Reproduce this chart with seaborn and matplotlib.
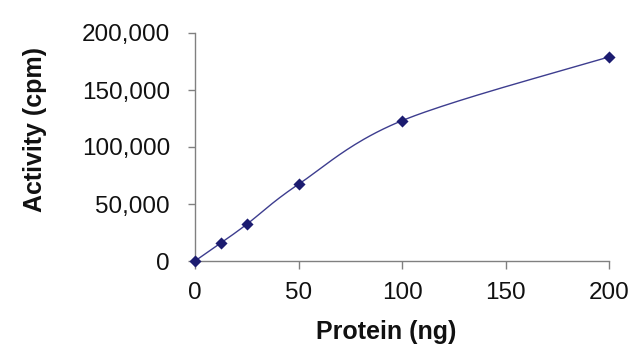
import numpy as np
import pandas as pd
import matplotlib
matplotlib.use("Agg")
import matplotlib.pyplot as plt
import seaborn as sns
from matplotlib.ticker import FuncFormatter

# data
protein_ng = [0, 12.5, 25, 50, 100, 200]
activity_cpm = [0, 15800, 32200, 67300, 123100, 179000]
x_ticks = [0, 50, 100, 150, 200]
y_ticks = [0, 50000, 100000, 150000, 200000]

line_color = "#3d3d8f"
marker_color = "#1c1c70"
axis_color = "#808080"


def excel_smooth(xs, ys, steps=40):
    """Bezier smoothing like a spreadsheet 'smoothed line'."""
    p = np.column_stack([xs, ys]).astype(float)
    n = len(p)
    out = []
    t = np.linspace(0, 1, steps)[:, None]
    for i in range(n - 1):
        p_prev = p[i - 1] if i > 0 else p[i]
        p_next = p[i + 2] if i + 2 < n else p[i + 1]
        c1 = p[i] + (p[i + 1] - p_prev) / 6
        c2 = p[i + 1] - (p_next - p[i]) / 6
        seg = ((1 - t) ** 3) * p[i] + 3 * ((1 - t) ** 2) * t * c1 \
            + 3 * (1 - t) * t ** 2 * c2 + t ** 3 * p[i + 1]
        out.append(seg if i == 0 else seg[1:])
    out = np.vstack(out)
    return pd.DataFrame({"x": out[:, 0], "y": out[:, 1]})


sns.set_style("white")
plt.rcParams["font.family"] = ["Liberation Sans", "DejaVu Sans"]

df = pd.DataFrame({"protein": protein_ng, "activity": activity_cpm})
curve = excel_smooth(protein_ng, activity_cpm)

fig = plt.figure(figsize=(6.4, 3.61), dpi=100)
ax = fig.add_axes([195 / 640, 1 - 261 / 361, 414 / 640, 228 / 361])

sns.lineplot(data=curve, x="x", y="y", ax=ax, color=line_color, lw=1.0,
             sort=False, estimator=None, clip_on=False)
sns.scatterplot(data=df, x="protein", y="activity", ax=ax, marker="D",
                s=38, color=marker_color, edgecolor=marker_color,
                linewidth=0, clip_on=False, zorder=3)

ax.set_xlim(0, 200)
ax.set_ylim(0, 200000)
ax.set_xticks(x_ticks)
ax.set_yticks(y_ticks)
ax.yaxis.set_major_formatter(FuncFormatter(lambda v, _: f"{int(v):,}"))

for side in ["top", "right"]:
    ax.spines[side].set_visible(False)
for side in ["left", "bottom"]:
    ax.spines[side].set_color(axis_color)
    ax.spines[side].set_linewidth(1.0)

ax.tick_params(axis="both", direction="out", color=axis_color, width=1.0,
               labelsize=17.5, labelcolor="#111111")
ax.tick_params(axis="y", length=5, pad=13)
ax.tick_params(axis="x", length=6, pad=9)
ax.tick_params(bottom=True, left=True)

ax.set_xlabel("Protein (ng)", fontsize=18, fontweight="bold", color="#111111")
ax.set_ylabel("Activity (cpm)", fontsize=18, fontweight="bold", color="#111111")
ax.xaxis.set_label_coords((386 - 195) / 414, -(320 - 261) / 228)
ax.yaxis.set_label_coords(-(195 - 47) / 414, (261 - 130) / 228)

fig.savefig("out.png", dpi=100)
